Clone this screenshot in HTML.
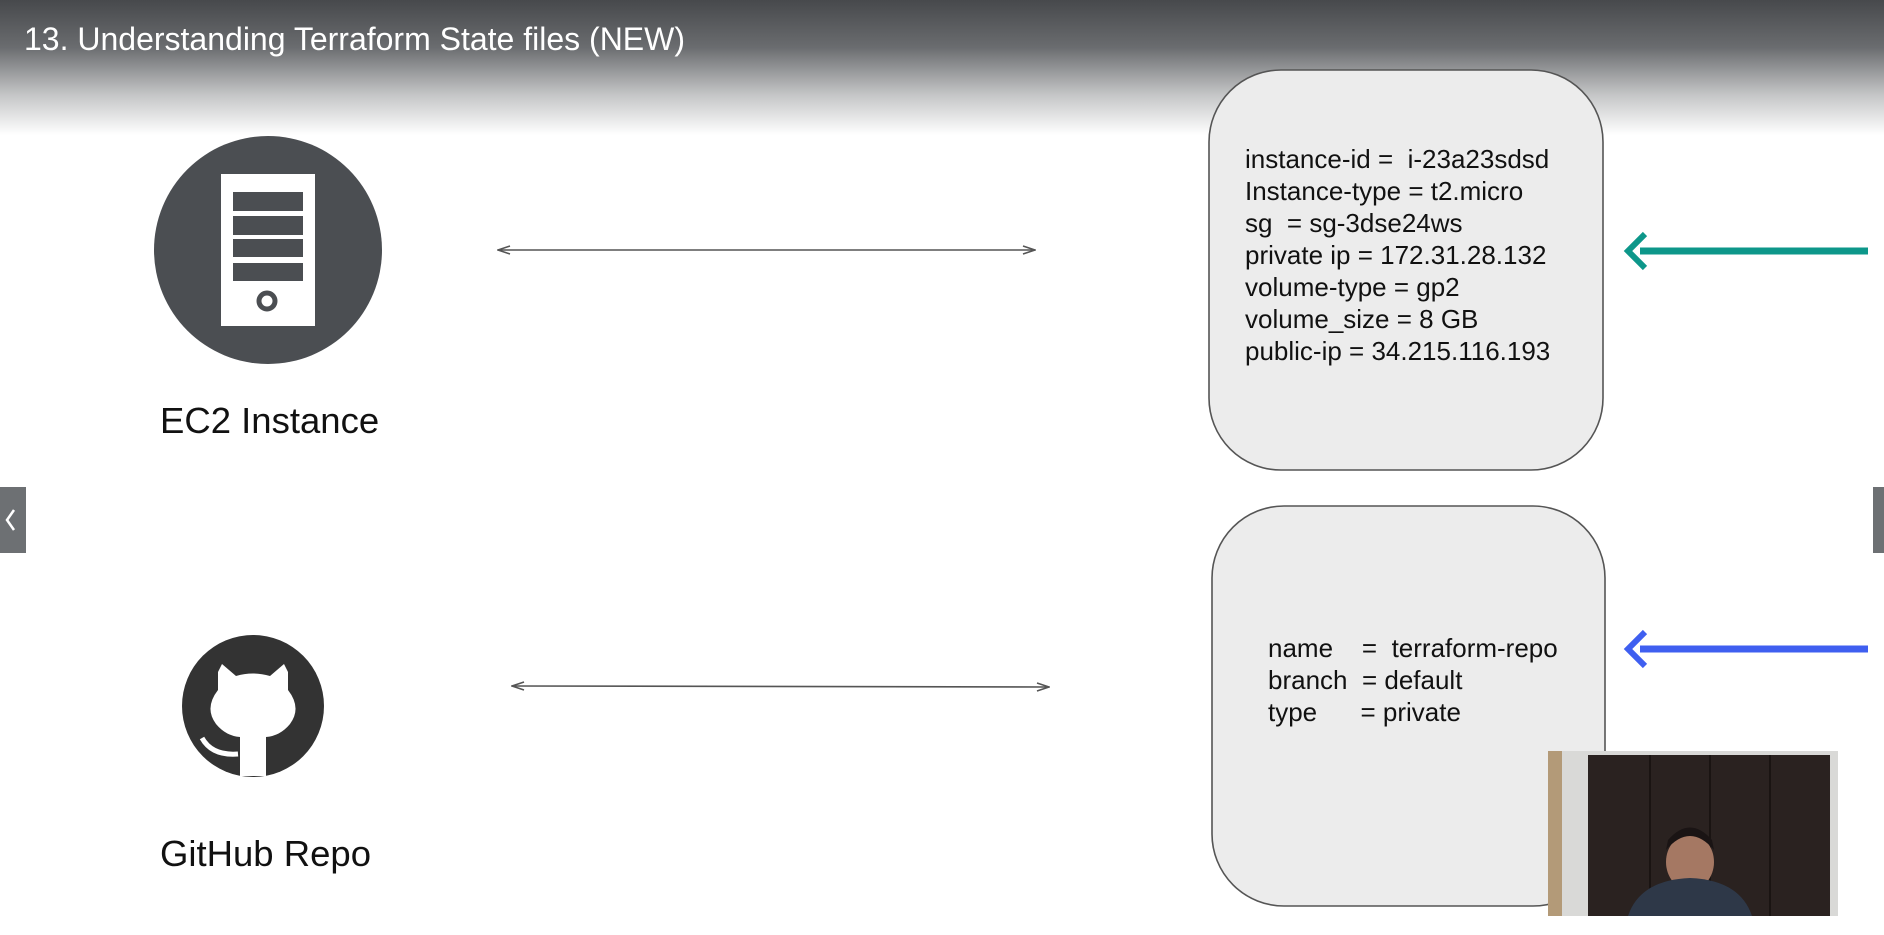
<!DOCTYPE html>
<html><head><meta charset="utf-8"><style>
html,body{margin:0;padding:0;width:1884px;height:935px;overflow:hidden;background:#fff}
svg{display:block}
text{font-family:"Liberation Sans",sans-serif}
</style></head><body>
<svg width="1884" height="935" viewBox="0 0 1884 935" xmlns="http://www.w3.org/2000/svg">
<defs>
<linearGradient id="hd" x1="0" y1="0" x2="0" y2="1">
<stop offset="0" stop-color="#47494c"/>
<stop offset="0.35" stop-color="#6a6c6f"/>
<stop offset="0.7" stop-color="#c4c5c6"/>
<stop offset="1" stop-color="#ffffff"/>
</linearGradient>
<marker id="ah" markerWidth="14" markerHeight="10" refX="13" refY="5" orient="auto-start-reverse" markerUnits="userSpaceOnUse">
<path d="M1,1 L13,5 L1,9" fill="none" stroke="#555" stroke-width="1.6"/>
</marker>
</defs>
<rect x="0" y="0" width="1884" height="135" fill="url(#hd)"/>
<text x="24" y="50" font-size="32" fill="#fff">13. Understanding Terraform State files (NEW)</text>

<circle cx="268" cy="250" r="114" fill="#4b4e52"/>
<rect x="221" y="174" width="94" height="152" fill="#fff"/>
<rect x="233" y="192" width="70" height="19" fill="#4b4e52"/>
<rect x="233" y="216" width="70" height="19" fill="#4b4e52"/>
<rect x="233" y="239" width="70" height="18" fill="#4b4e52"/>
<rect x="233" y="263" width="70" height="18" fill="#4b4e52"/>
<circle cx="267" cy="301" r="8" fill="none" stroke="#4b4e52" stroke-width="5"/>
<text x="160" y="433" font-size="36.5" fill="#111">EC2 Instance</text>

<circle cx="253" cy="706" r="71" fill="#333"/>
<path d="M218,672 L222,664 L236,676 Q253,671 270,676 L284,664 L288,672 L288,690 Q302,708 290,724 Q280,736 266,737 L266,776 L240,776 L240,737 Q226,736 216,724 Q204,708 218,690 Z" fill="#fff"/>
<path d="M202,738 Q212,756 238,754" fill="none" stroke="#fff" stroke-width="5"/>
<text x="160" y="866" font-size="36.5" fill="#111">GitHub Repo</text>

<line x1="498" y1="250" x2="1035" y2="250" stroke="#555" stroke-width="1.6" marker-start="url(#ah)" marker-end="url(#ah)"/>
<line x1="512" y1="686" x2="1049" y2="687" stroke="#555" stroke-width="1.6" marker-start="url(#ah)" marker-end="url(#ah)"/>

<rect x="1209" y="70" width="394" height="400" rx="72" ry="72" fill="#ececec" stroke="#555" stroke-width="1.6"/>
<g font-size="26" fill="#111">
<text x="1245" y="168" xml:space="preserve">instance-id =  i-23a23sdsd</text>
<text x="1245" y="200">Instance-type = t2.micro</text>
<text x="1245" y="232" xml:space="preserve">sg  = sg-3dse24ws</text>
<text x="1245" y="264">private ip = 172.31.28.132</text>
<text x="1245" y="296">volume-type = gp2</text>
<text x="1245" y="328">volume_size = 8 GB</text>
<text x="1245" y="360">public-ip = 34.215.116.193</text>
</g>
<rect x="1212" y="506" width="393" height="400" rx="72" ry="72" fill="#ececec" stroke="#555" stroke-width="1.6"/>
<g font-size="26" fill="#111">
<text x="1268" y="657" xml:space="preserve">name    =  terraform-repo</text>
<text x="1268" y="689" xml:space="preserve">branch  = default</text>
<text x="1268" y="721" xml:space="preserve">type      = private</text>
</g>

<line x1="1640" y1="251" x2="1868" y2="251" stroke="#0d978a" stroke-width="7"/>
<path d="M1645,234 L1628,251 L1645,268" fill="none" stroke="#0d978a" stroke-width="6"/>
<line x1="1640" y1="649" x2="1868" y2="649" stroke="#3f5ff0" stroke-width="7"/>
<path d="M1645,632 L1628,649 L1645,666" fill="none" stroke="#3f5ff0" stroke-width="6"/>

<rect x="0" y="487" width="26" height="66" fill="#6d7073"/>
<path d="M14,510 L7,520 L14,530" fill="none" stroke="#fff" stroke-width="2.5"/>
<rect x="1873" y="487" width="11" height="66" fill="#6d7073"/>

<rect x="1548" y="751" width="290" height="165" fill="#d9d9d7"/>
<rect x="1548" y="751" width="14" height="165" fill="#b39a78"/>
<rect x="1588" y="755" width="242" height="161" fill="#2a2220"/>
<line x1="1650" y1="755" x2="1650" y2="916" stroke="#1a1412" stroke-width="2"/>
<line x1="1710" y1="755" x2="1710" y2="916" stroke="#1a1412" stroke-width="2"/>
<line x1="1770" y1="755" x2="1770" y2="916" stroke="#1a1412" stroke-width="2"/>
<ellipse cx="1690" cy="862" rx="24" ry="28" fill="#a57863"/>
<path d="M1666,850 Q1690,822 1714,850 L1712,840 Q1690,815 1668,840 Z" fill="#1a1414"/>
<path d="M1628,916 Q1640,880 1690,878 Q1740,880 1752,916 Z" fill="#2e3848"/>
</svg>
</body></html>
